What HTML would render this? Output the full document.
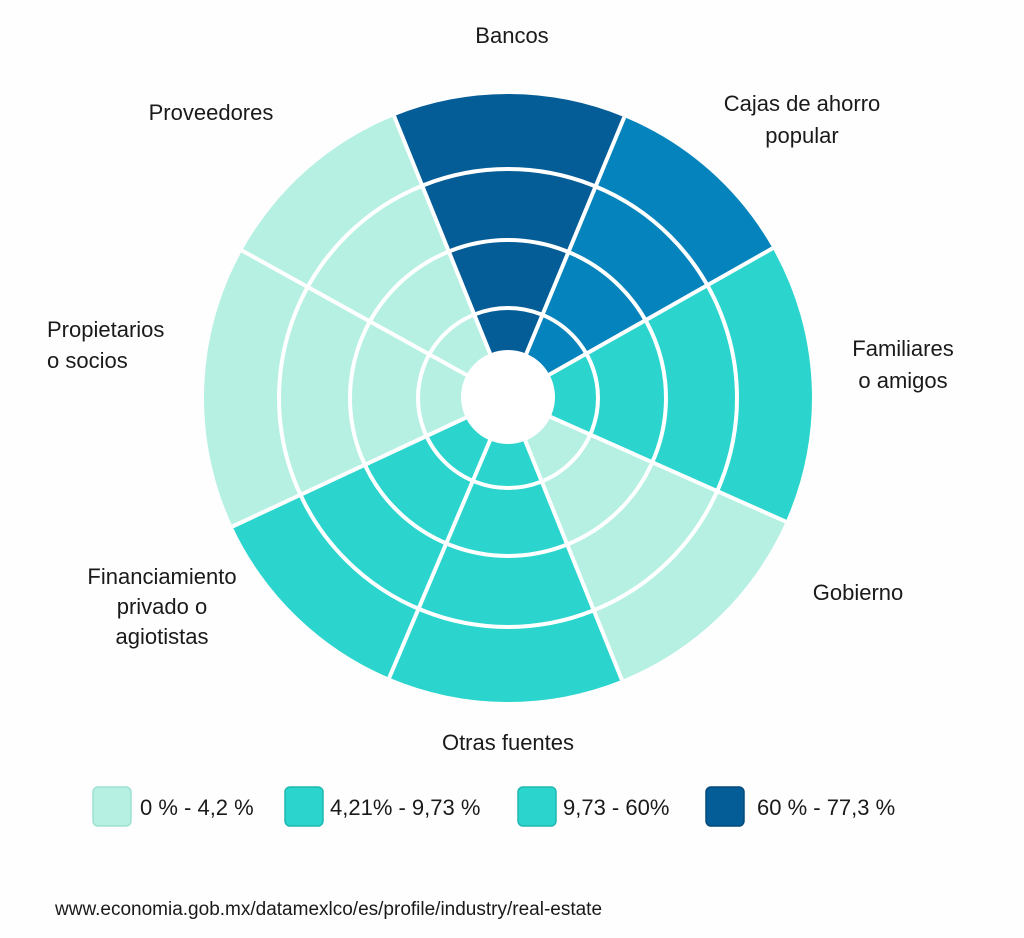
<!DOCTYPE html>
<html><head><meta charset="utf-8"><style>
body{margin:0;background:#fefefe;}
svg{display:block}
text{font-family:"Liberation Sans","DejaVu Sans",sans-serif;fill:#1a1a1a;}
</style></head><body>
<svg width="1024" height="938" viewBox="0 0 1024 938" xmlns="http://www.w3.org/2000/svg">
<rect width="1024" height="938" fill="#fefefe"/>
<g>
<path d="M508,398 L394.1,116.1 A304,304 0 0 1 624.3,117.1 Z" fill="#045d96"/>
<path d="M508,398 L624.3,117.1 A304,304 0 0 1 772.6,248.3 Z" fill="#0583bc"/>
<path d="M508,398 L772.6,248.3 A304,304 0 0 1 785.7,521.6 Z" fill="#2bd5cd"/>
<path d="M508,398 L785.7,521.6 A304,304 0 0 1 621.9,679.9 Z" fill="#b5f0e3"/>
<path d="M508,398 L621.9,679.9 A304,304 0 0 1 389.2,677.8 Z" fill="#2bd5cd"/>
<path d="M508,398 L389.2,677.8 A304,304 0 0 1 232.5,526.5 Z" fill="#2bd5cd"/>
<path d="M508,398 L232.5,526.5 A304,304 0 0 1 242.1,250.6 Z" fill="#b5f0e3"/>
<path d="M508,398 L242.1,250.6 A304,304 0 0 1 394.1,116.1 Z" fill="#b5f0e3"/>
</g>
<g stroke="#fff" stroke-width="4" fill="none">
<circle cx="508" cy="398" r="90"/>
<circle cx="508" cy="398" r="158"/>
<circle cx="508" cy="398" r="229"/>
<line x1="508" y1="398" x2="394.1" y2="116.1"/>
<line x1="508" y1="398" x2="624.3" y2="117.1"/>
<line x1="508" y1="398" x2="772.6" y2="248.3"/>
<line x1="508" y1="398" x2="785.7" y2="521.6"/>
<line x1="508" y1="398" x2="621.9" y2="679.9"/>
<line x1="508" y1="398" x2="389.2" y2="677.8"/>
<line x1="508" y1="398" x2="232.5" y2="526.5"/>
<line x1="508" y1="398" x2="242.1" y2="250.6"/>
</g>
<circle cx="508" cy="397" r="47" fill="#fff"/>
<g font-size="22">
<text x="512" y="43" text-anchor="middle">Bancos</text>
<text x="211" y="120" text-anchor="middle">Proveedores</text>
<text x="802" y="111" text-anchor="middle">Cajas de ahorro</text>
<text x="802" y="143" text-anchor="middle">popular</text>
<text x="903" y="356" text-anchor="middle">Familiares</text>
<text x="903" y="388" text-anchor="middle">o amigos</text>
<text x="47" y="337">Propietarios</text>
<text x="47" y="368">o socios</text>
<text x="858" y="600" text-anchor="middle">Gobierno</text>
<text x="162" y="584" text-anchor="middle">Financiamiento</text>
<text x="162" y="614" text-anchor="middle">privado o</text>
<text x="162" y="644" text-anchor="middle">agiotistas</text>
<text x="508" y="750" text-anchor="middle">Otras fuentes</text>
</g>
<g stroke-width="1.5">
<rect x="93" y="787" width="38" height="39" rx="5" fill="#b5f0e3" stroke="#9fe0d2"/>
<rect x="285" y="787" width="38" height="39" rx="5" fill="#2bd5cd" stroke="#20b8b0"/>
<rect x="518" y="787" width="38" height="39" rx="5" fill="#2bd5cd" stroke="#20b8b0"/>
<rect x="706" y="787" width="38" height="39" rx="5" fill="#045d96" stroke="#034a78"/>
</g>
<g font-size="22">
<text x="140" y="815">0 % - 4,2 %</text>
<text x="330" y="815">4,21% - 9,73 %</text>
<text x="563" y="815">9,73 - 60%</text>
<text x="757" y="815">60 % - 77,3 %</text>
</g>
<text x="55" y="915" font-size="19">www.economia.gob.mx/datamexlco/es/profile/industry/real-estate</text>
</svg>
</body></html>
